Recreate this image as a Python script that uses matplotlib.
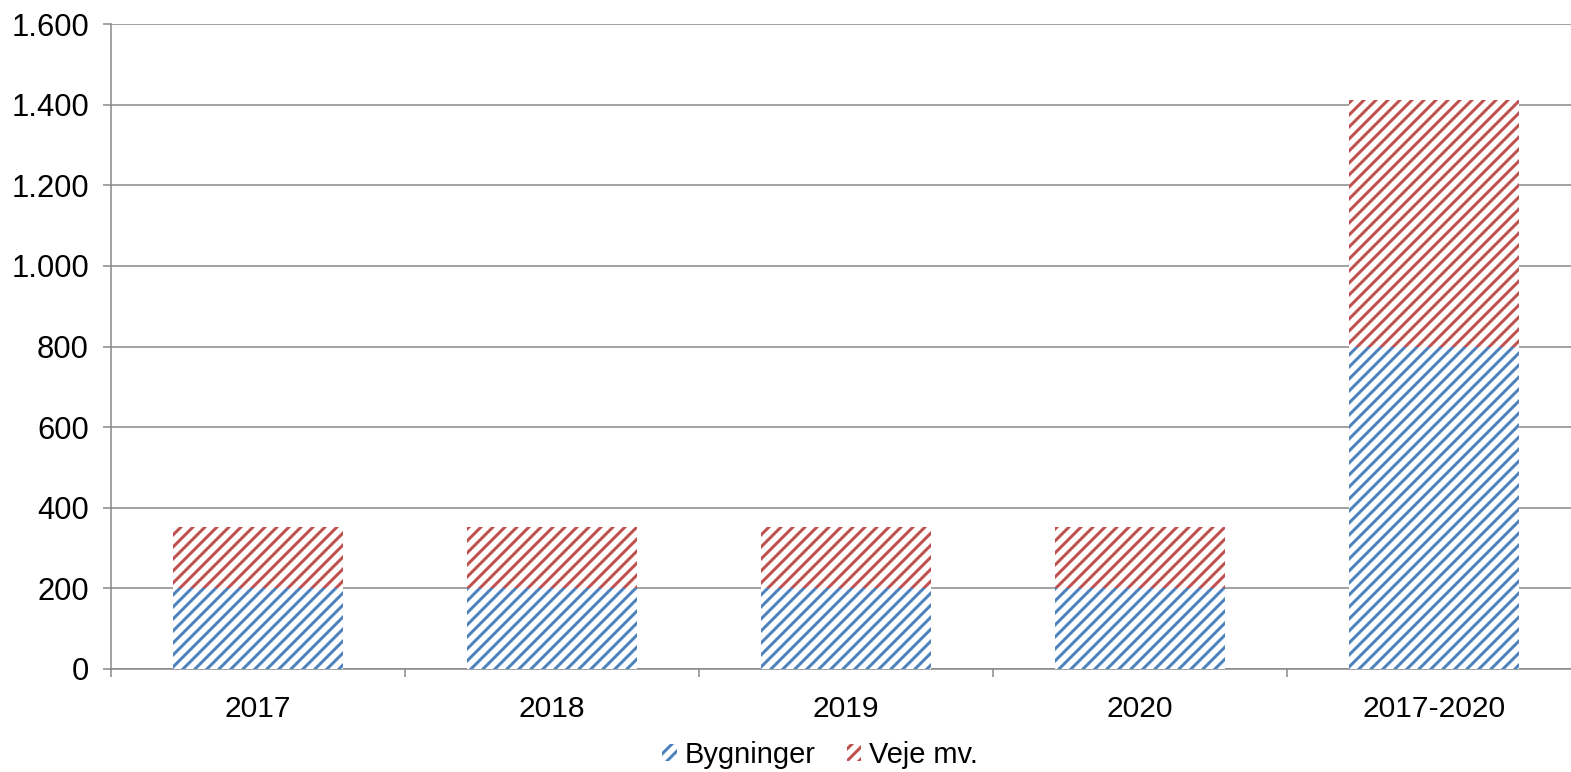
import numpy as np
import matplotlib
matplotlib.use("Agg")
import matplotlib.pyplot as plt
from matplotlib.ticker import FuncFormatter, FixedLocator

# data
kategorier = ["2017", "2018", "2019", "2020", "2017-2020"]
bygninger = [200, 200, 200, 200, 800]
veje = [153, 153, 153, 153, 612]

blaa = "#4F81BD"
roed = "#C0504D"
graa = "#868686"

plt.rcParams['font.family'] = ['Liberation Sans', 'DejaVu Sans']
plt.rcParams['hatch.linewidth'] = 3.0

# dpi 72 -> hatch enhed = 72 px
fig = plt.figure(figsize=(1571 / 72, 772 / 72), dpi=72)
ax = fig.add_axes([111 / 1571, 103 / 772, 1 - 111 / 1571, 645 / 772])

x = np.arange(len(kategorier))
ax.bar(x, bygninger, width=0.58, color="white", edgecolor=blaa, hatch="//", linewidth=0,
       label="Bygninger", zorder=3)
ax.bar(x, veje, width=0.58, bottom=bygninger, color="white", edgecolor=roed, hatch="//",
       linewidth=0, label="Veje mv.", zorder=3)

ax.set_ylim(0, 1600)
ax.set_yticks(np.arange(0, 1601, 200))
ax.yaxis.set_major_formatter(FuncFormatter(lambda v, p: f"{int(v):,}".replace(",", ".")))
ax.set_xlim(-0.5, 4.5 - 10 / 294)
ax.xaxis.set_major_locator(FixedLocator(x))
ax.set_xticklabels(kategorier)
ax.xaxis.set_minor_locator(FixedLocator(np.arange(-0.5, 5, 1)))
ax.tick_params(axis="x", which="major", length=0, pad=26, labelsize=30)
ax.tick_params(axis="x", which="minor", length=8, width=1.5, color=graa, direction="out")
ax.tick_params(axis="y", length=8, width=1.5, color=graa, pad=14, labelsize=31)

ax.grid(axis="y", color=graa, linewidth=1.5, zorder=0)
ax.set_axisbelow(True)
for s in ["top", "right"]:
    ax.spines[s].set_visible(False)
ax.spines["left"].set_color(graa)
ax.spines["left"].set_linewidth(1.5)
ax.spines["bottom"].set_color(graa)
ax.spines["bottom"].set_linewidth(1.5)

leg = fig.legend(loc="center", bbox_to_anchor=(820 / 1571, 1 - 755 / 772), ncol=2,
                 frameon=False, fontsize=29, handlelength=0.5, handleheight=0.5,
                 handletextpad=0.25, columnspacing=1.1, borderaxespad=0)

fig.savefig("out.png", dpi=72)
